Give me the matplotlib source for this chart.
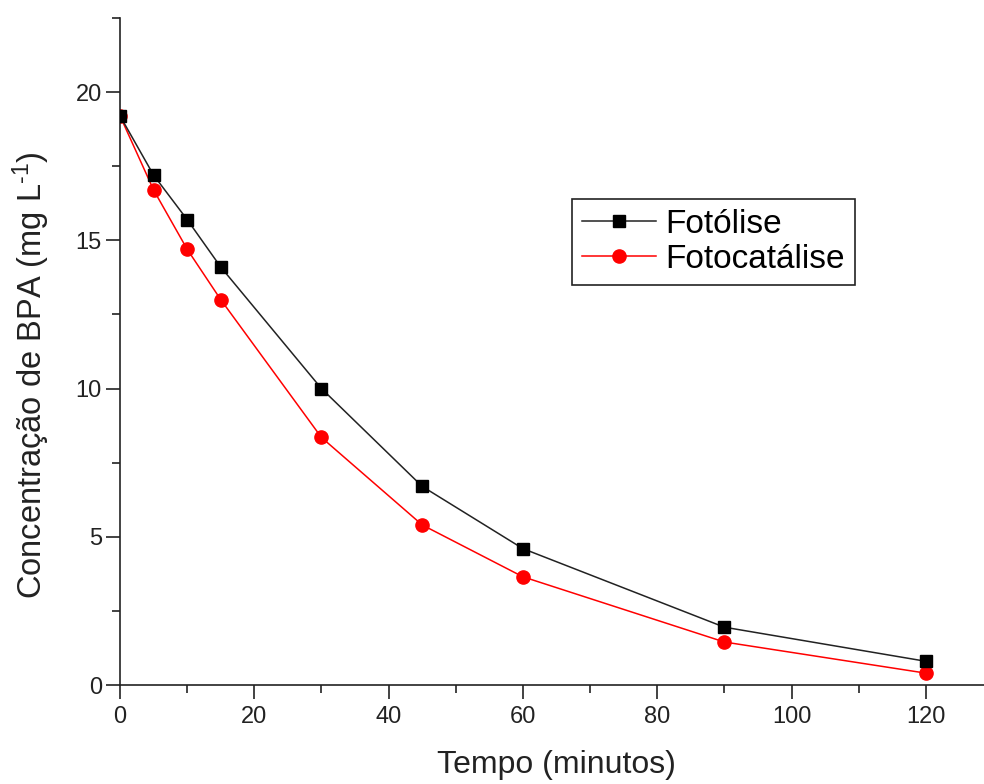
import matplotlib
matplotlib.use('Agg')
import matplotlib.pyplot as plt
from matplotlib.ticker import MultipleLocator

plt.rcParams['font.family'] = ['Liberation Sans', 'DejaVu Sans']
plt.rcParams['mathtext.fontset'] = 'custom'
plt.rcParams['mathtext.rm'] = 'Liberation Sans'
plt.rcParams['mathtext.default'] = 'regular'

# dados
tempo = [0, 5, 10, 15, 30, 45, 60, 90, 120]
fotolise = [19.2, 17.2, 15.7, 14.1, 10.0, 6.7, 4.6, 1.95, 0.8]
fotocatalise = [19.2, 16.7, 14.7, 13.0, 8.35, 5.4, 3.65, 1.45, 0.4]

fig = plt.figure(figsize=(9.84, 7.84), dpi=100)
ax = fig.add_axes([120 / 984, 99 / 784, 873 / 984, 667 / 784])

ax.plot(tempo, fotolise, color='#222222', lw=1.1, marker='s', ms=8.5,
        mfc='black', mec='black', label='Fotólise', zorder=3)
ax.plot(tempo, fotocatalise, color='red', lw=1.1, marker='o', ms=9.5,
        mfc='red', mec='red', label='Fotocatálise', zorder=2)

ax.set_xlim(0, 130)
ax.set_ylim(0, 22.5)
ax.xaxis.set_major_locator(MultipleLocator(20))
ax.xaxis.set_minor_locator(MultipleLocator(10))
ax.yaxis.set_major_locator(MultipleLocator(5))
ax.yaxis.set_minor_locator(MultipleLocator(2.5))

for s in ['top', 'right']:
    ax.spines[s].set_visible(False)
for s in ['left', 'bottom']:
    ax.spines[s].set_linewidth(1.2)
    ax.spines[s].set_color('#222222')

ax.tick_params(which='major', direction='out', length=10, width=1.2,
               color='#222222', labelsize=17, labelcolor='#222222')
ax.tick_params(which='minor', direction='out', length=6, width=1.2, color='#222222')
ax.tick_params(axis='x', which='major', pad=5)
ax.tick_params(axis='y', which='major', pad=3)

ax.set_xlabel('Tempo (minutos)', fontsize=23, color='#222222')
ax.set_ylabel('Concentração de BPA (mg L$^{\\text{-}1}$)', fontsize=23.5, color='#222222')
ax.yaxis.set_label_coords(-0.078, 0.465)
ax.xaxis.set_label_coords(0.5, -0.098)

leg = ax.legend(loc='upper left', bbox_to_anchor=(0.518, 0.729), borderaxespad=0,
                fontsize=24, fancybox=False, edgecolor='#222222', framealpha=1,
                handlelength=2.2, handletextpad=0.3, labelspacing=0.12,
                borderpad=0.3)
leg.get_frame().set_linewidth(1.2)

fig.savefig('out.png', dpi=100)
